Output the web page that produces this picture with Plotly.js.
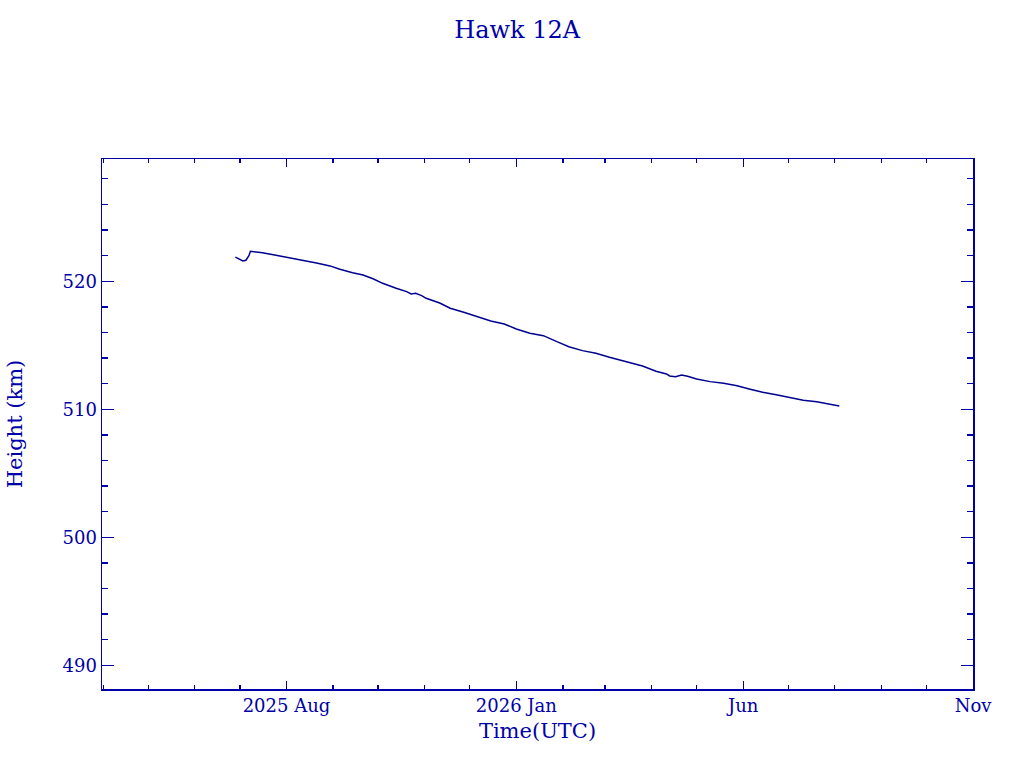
<!DOCTYPE html>
<html>
<head>
<meta charset="utf-8">
<script src="https://cdn.plot.ly/plotly-3.0.1.min.js"></script>
<style>
  body { margin: 0; background: #fff; }
  #height_plot { width: 1024px; height: 768px; }
</style>
</head>
<body>
<div id="height_plot"></div>
<script>
var dates = ['2025-06-28','2025-07-01','2025-07-03','2025-07-05','2025-07-07','2025-07-08','2025-07-11','2025-07-16','2025-07-25','2025-08-03',
             '2025-08-12','2025-08-21','2025-08-30','2025-09-05','2025-09-14','2025-09-21','2025-09-28','2025-10-04','2025-10-13','2025-10-20',
             '2025-10-23','2025-10-26','2025-10-30','2025-11-02','2025-11-11','2025-11-18','2025-11-27','2025-12-06','2025-12-15','2025-12-24',
             '2026-01-01','2026-01-10','2026-01-19','2026-01-28','2026-02-05','2026-02-14','2026-02-23','2026-03-04','2026-03-13','2026-03-23',
             '2026-03-26','2026-04-04','2026-04-11','2026-04-13','2026-04-17','2026-04-21','2026-04-25','2026-05-01','2026-05-10','2026-05-19',
             '2026-05-28','2026-06-05','2026-06-14','2026-06-23','2026-07-02','2026-07-11','2026-07-20','2026-07-29','2026-08-04'];

var heights = [521.88,521.69,521.59,521.64,522.0,522.34,522.31,522.23,522.03,521.84,
               521.64,521.43,521.2,520.96,520.67,520.49,520.18,519.84,519.45,519.19,
               519.01,519.06,518.88,518.67,518.3,517.89,517.58,517.23,516.9,516.66,
               516.27,515.94,515.75,515.28,514.89,514.58,514.38,514.06,513.77,513.46,
               513.38,512.97,512.76,512.6,512.55,512.68,512.58,512.37,512.16,512.03,
               511.84,511.59,511.33,511.14,510.91,510.7,510.59,510.41,510.26];

var x_ticks = ['2025-08-01', '2026-01-01', '2026-06-01', '2026-11-01'];
var x_labels = ['2025 Aug', '2026 Jan', 'Jun', 'Nov'];
var y_ticks = [490, 500, 510, 520];

var blue = '#0000a8';
var font = 'DejaVu Serif';

var trace = {
    x: dates,
    y: heights,
    type: 'scatter',
    mode: 'lines',
    line: {color: '#000090', width: 1.5},
    hoverinfo: 'skip'
};

var layout = {
    width: 1024,
    height: 768,
    margin: {l: 102, r: 51, t: 159, b: 79},
    paper_bgcolor: '#fff',
    plot_bgcolor: '#fff',
    showlegend: false,
    font: {family: font, color: blue, size: 18},
    title: {
        text: 'Hawk 12A',
        font: {family: font, size: 24, color: blue},
        xref: 'container', x: 0.505, xanchor: 'center',
        yref: 'container', y: 0.962, yanchor: 'middle'
    },
    xaxis: {
        type: 'date',
        range: ['2025-03-31 05:00', '2026-11-01'],
        tickmode: 'array',
        tickvals: x_ticks,
        ticktext: x_labels,
        ticks: 'inside',
        ticklen: 8,
        tickwidth: 1.3,
        tickcolor: blue,
        minor: {dtick: 'M1', tick0: '2025-04-01', ticks: 'inside', ticklen: 4, tickwidth: 1.3, tickcolor: blue},
        showline: true,
        linecolor: blue,
        linewidth: 1.5,
        mirror: 'allticks',
        showgrid: false,
        zeroline: false,
        tickfont: {family: font, size: 18, color: blue},
        title: {text: 'Time(UTC)', font: {family: font, size: 21, color: blue}, standoff: 8}
    },
    yaxis: {
        range: [488.15, 529.55],
        tickmode: 'array',
        tickvals: y_ticks,
        ticks: 'inside',
        ticklen: 12,
        tickwidth: 1.3,
        tickcolor: blue,
        minor: {dtick: 2, tick0: 0, ticks: 'inside', ticklen: 6, tickwidth: 1.3, tickcolor: blue},
        showline: true,
        linecolor: blue,
        linewidth: 1.5,
        mirror: 'allticks',
        showgrid: false,
        zeroline: false,
        tickfont: {family: font, size: 18, color: blue},
        title: {text: 'Height (km)', font: {family: font, size: 21, color: blue}, standoff: 34}
    }
};

Plotly.newPlot('height_plot', [trace], layout, {staticPlot: true, displayModeBar: false});
</script>
</body>
</html>
